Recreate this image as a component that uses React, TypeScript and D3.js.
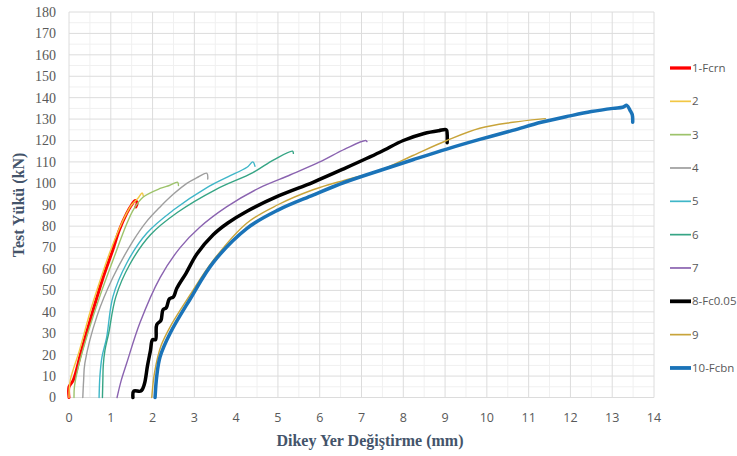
import React from 'react';
import * as d3 from 'd3';

// series names, colours and stroke widths
const seriesNames = ['1-Fcrn', '2', '3', '4', '5', '6', '7', '8-Fc0.05', '9', '10-Fcbn'];
const seriesColors = ['#FF0000', '#F2C744', '#9DC36B', '#9E9E9E', '#3FB6C8', '#36A585', '#8A63B0', '#000000', '#C8A43A', '#1A73B8'];
const seriesWidths = [3, 1.4, 1.4, 1.4, 1.4, 1.4, 1.4, 3.5, 1.4, 3.5];

// [displacement mm, load kN]
const s1 = [[0, 0], [0, 5], [0.1, 8], [0.3, 22], [0.58, 41], [0.8, 55], [1.05, 69], [1.2, 78], [1.38, 86], [1.5, 90], [1.58, 92], [1.63, 91], [1.6, 89]];
const s2 = [[0, 0], [0.03, 8], [0.25, 22], [0.52, 41], [0.75, 55], [1.0, 69], [1.3, 83], [1.5, 90], [1.65, 93], [1.75, 95.5], [1.78, 94]];
const s3 = [[0.12, 0], [0.13, 5], [0.22, 14], [0.45, 30], [0.75, 48], [1.05, 64], [1.38, 81], [1.55, 88], [1.77, 93.5], [2.18, 97.6], [2.4, 99], [2.6, 100.5], [2.62, 99]];
const s4 = [[0.33, 0], [0.35, 8], [0.38, 16], [0.67, 38], [1.05, 56], [1.53, 73], [1.85, 82], [2.18, 89], [2.5, 95], [2.82, 100], [3.05, 102.5], [3.3, 104.7], [3.32, 102]];
const s5 = [[0.72, 0], [0.74, 10], [0.79, 19], [0.9, 28], [1.05, 47], [1.38, 62.7], [1.86, 76.7], [2.49, 87.4], [3.3, 98], [3.8, 103], [4.26, 107.5], [4.4, 110], [4.45, 108]];
const s6 = [[0.8, 0], [0.81, 8], [0.82, 15], [0.86, 22], [0.95, 30], [1.12, 47], [1.45, 62], [1.95, 76], [2.6, 86.5], [3.5, 97], [4.4, 105], [4.9, 111], [5.35, 115], [5.37, 114]];
const s7 = [[1.15, 0], [1.25, 8], [1.38, 16], [1.7, 35], [2.18, 56], [2.66, 70], [3.13, 79.5], [3.77, 89], [4.57, 98], [5.3, 104], [6.0, 110], [6.6, 116], [7.1, 120], [7.13, 119.5]];
const s8 = [[1.53, 0], [1.55, 3], [1.72, 3], [1.8, 6], [1.88, 15], [1.95, 22], [2.0, 27], [2.07, 27], [2.1, 34], [2.2, 36], [2.25, 41], [2.33, 42], [2.4, 46], [2.5, 47], [2.58, 51], [2.8, 58], [3.06, 67], [3.45, 76], [3.8, 81.5], [4.26, 87], [5.0, 94], [5.84, 100.5], [6.6, 107], [7.44, 114.5], [8.0, 120], [8.5, 123.3], [8.85, 124.6], [9.03, 125], [9.05, 123], [9.05, 119]];
const s9 = [[1.98, 0], [2.05, 12], [2.2, 24], [2.45, 34], [2.9, 48], [3.45, 64], [4.26, 81.5], [5.0, 90], [5.84, 97], [6.6, 101.5], [7.44, 106], [8.23, 113], [9.04, 120], [9.83, 125.7], [10.62, 128.5], [11.27, 130], [11.4, 130.2]];
const s10 = [[2.06, 0], [2.1, 10], [2.18, 19], [2.42, 30], [2.9, 46], [3.45, 63], [4.26, 79], [5.0, 87.5], [5.84, 94.5], [6.6, 100.5], [7.44, 106], [8.23, 111], [9.04, 116], [9.83, 120.5], [10.62, 124.7], [11.3, 128.5], [11.99, 131.5], [12.5, 133.5], [13.02, 135], [13.25, 135.5], [13.35, 136.4], [13.43, 134], [13.48, 132], [13.49, 128.5]];
const allSeries = [s1, s2, s3, s4, s5, s6, s7, s8, s9, s10];

const xTicks = d3.range(0, 15, 1);
const yTicks = d3.range(0, 190, 10);
const xMinor = d3.range(0.5, 14, 1);
const yMinor = d3.range(5, 180, 10);

export default function App() {
  const x = d3.scaleLinear().domain([0, 14]).range([69, 654]);
  const y = d3.scaleLinear().domain([0, 180]).range([397.5, 12]);
  const line = d3.line<number[]>().x(d => x(d[0])).y(d => y(d[1])).curve(d3.curveCatmullRom.alpha(0.5));

  const tickColor = '#595959';
  const titleColor = '#44546A';

  return (
    <svg width={737} height={456} style={{ position: 'absolute', left: 0, top: 0, background: '#fff' }}>
      {/* minor grid */}
      {xMinor.map(v => (
        <line key={'xm' + v} x1={x(v)} x2={x(v)} y1={y(0)} y2={y(180)} stroke="#f0f0f0" strokeWidth={1} />
      ))}
      {yMinor.map(v => (
        <line key={'ym' + v} x1={x(0)} x2={x(14)} y1={y(v)} y2={y(v)} stroke="#f0f0f0" strokeWidth={1} />
      ))}
      {/* major grid */}
      {xTicks.map(v => (
        <line key={'xg' + v} x1={x(v)} x2={x(v)} y1={y(0)} y2={y(180)} stroke="#dcdcdc" strokeWidth={1} />
      ))}
      {yTicks.map(v => (
        <line key={'yg' + v} x1={x(0)} x2={x(14)} y1={y(v)} y2={y(v)} stroke="#dcdcdc" strokeWidth={1} />
      ))}

      {/* tick labels */}
      {yTicks.map(v => (
        <text key={'yl' + v} x={56} y={y(v)} dy="0.35em" textAnchor="end"
          fontFamily="'Liberation Serif', 'Times New Roman', serif" fontSize={14} fill={tickColor}>{v}</text>
      ))}
      {xTicks.map(v => (
        <text key={'xl' + v} x={x(v)} y={422} textAnchor="middle"
          fontFamily="'Open Sans', 'Liberation Sans', sans-serif" fontSize={12.5} fill={tickColor}>{v}</text>
      ))}

      {/* series */}
      {allSeries.map((s, i) => (
        <path key={'s' + i} d={line(s) || ''} fill="none" stroke={seriesColors[i]}
          strokeWidth={seriesWidths[i]} strokeLinejoin="round" strokeLinecap="round" />
      ))}

      {/* axis titles */}
      <text x={370} y={446} textAnchor="middle" fontFamily="'Liberation Serif', 'Times New Roman', serif"
        fontWeight="bold" fontSize={16} fill={titleColor}>Dikey Yer Değiştirme (mm)</text>
      <text transform="translate(24,205) rotate(-90)" textAnchor="middle"
        fontFamily="'Liberation Serif', 'Times New Roman', serif" fontWeight="bold" fontSize={16} fill={titleColor}>Test Yükü (kN)</text>

      {/* legend */}
      {seriesNames.map((n, i) => {
        const ly = 68 + i * 33.33;
        return (
          <g key={'lg' + i}>
            <line x1={670} x2={691} y1={ly} y2={ly} stroke={seriesColors[i]} strokeWidth={seriesWidths[i] + 0.3} />
            <text x={692} y={ly} dy="0.35em" fontFamily="'Open Sans', 'Liberation Sans', sans-serif"
              fontSize={11.5} fill={tickColor}>{n}</text>
          </g>
        );
      })}
    </svg>
  );
}
